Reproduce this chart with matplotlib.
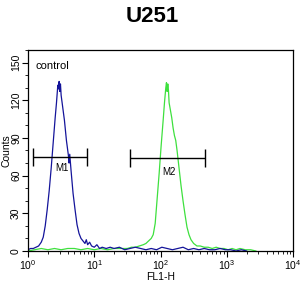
import numpy as np
import matplotlib.pyplot as plt
from matplotlib.ticker import MultipleLocator, LogLocator, NullFormatter

plt.rcParams['font.family'] = ['Liberation Sans', 'DejaVu Sans']

# control histogram (blue), positions in decades of FL1-H
blue_log = [0.00, 0.04, 0.08, 0.12, 0.16, 0.20, 0.23, 0.26, 0.29, 0.32, 0.35,
            0.38, 0.41, 0.43, 0.45, 0.46, 0.47, 0.48, 0.49, 0.50, 0.52, 0.55,
            0.58, 0.61, 0.62, 0.63, 0.65, 0.68, 0.71, 0.74, 0.77, 0.80, 0.83,
            0.86, 0.88, 0.90, 0.93, 0.96, 1.00, 1.04, 1.08, 1.12, 1.18, 1.24,
            1.30, 1.38, 1.46, 1.54, 1.62, 1.70, 1.78, 1.86, 1.94, 2.02, 2.10,
            2.18, 2.26, 2.34, 2.42, 2.50, 2.58, 2.66, 2.74, 2.82, 2.90, 2.98,
            3.06, 3.14, 3.22, 3.30]
blue_cnt = [1, 2, 2, 3, 4, 7, 11, 20, 33, 48, 66,
            86, 106, 118, 132, 129, 135, 127, 133, 124, 116, 104,
            88, 76, 70, 77, 64, 46, 33, 21, 14, 10, 8,
            6, 9, 5, 7, 4, 3, 5, 2, 3, 2, 3,
            2, 3, 1, 2, 3, 2, 1, 2, 1, 3, 2,
            1, 2, 3, 1, 2, 1, 2, 1, 1, 2, 1,
            1, 0, 1, 0]

# U251 histogram (green)
green_log = [0.00, 0.10, 0.20, 0.30, 0.40, 0.50, 0.60, 0.70, 0.80, 0.90, 1.00,
             1.10, 1.20, 1.30, 1.40, 1.50, 1.56, 1.62, 1.68, 1.74, 1.78, 1.82,
             1.86, 1.89, 1.92, 1.95, 1.98, 2.01, 2.04, 2.06, 2.08, 2.09, 2.10,
             2.11, 2.12, 2.13, 2.15, 2.17, 2.19, 2.21, 2.23, 2.25, 2.28, 2.31,
             2.34, 2.37, 2.40, 2.43, 2.46, 2.50, 2.55, 2.60, 2.66, 2.72, 2.78,
             2.84, 2.90, 2.96, 3.02, 3.08, 3.14, 3.20, 3.28, 3.36, 3.44]
green_cnt = [0, 1, 2, 1, 2, 1, 2, 2, 1, 2, 1,
             2, 1, 2, 2, 2, 3, 3, 4, 5, 6, 8,
             10, 13, 22, 42, 62, 84, 104, 118, 130, 134, 127,
             133, 128, 118, 112, 106, 98, 92, 88, 80, 66, 52,
             40, 29, 19, 13, 9, 6, 4, 4, 3, 3, 2,
             3, 2, 2, 1, 2, 1, 2, 1, 1, 0]

# marker gates: (label, start, end, bar height)
gate_names = ['M1', 'M2']
gate_lo = [1.19, 34.7]
gate_hi = [7.8, 468]
gate_y = [75, 74]
gate_text_x = [3.2, 135]
gate_text_y = [66, 63]

fig = plt.figure(figsize=(3.05, 2.96), dpi=100)
ax = fig.add_axes([28/305, 45/296, 265/305, 201/296])

ax.plot(10**np.array(green_log), green_cnt, color='#3ee03e', lw=0.9)
ax.plot(10**np.array(blue_log), blue_cnt, color='#14149a', lw=0.9)

for name, lo, hi, y, tx, ty in zip(gate_names, gate_lo, gate_hi, gate_y,
                                   gate_text_x, gate_text_y):
    ax.hlines(y, lo, hi, color='black', lw=1)
    ax.vlines([lo, hi], y - 7, y + 7, color='black', lw=1)
    ax.text(tx, ty, name, ha='center', va='center', fontsize=7)

ax.text(1.32, 147, 'control', ha='left', va='center', fontsize=8)

ax.set_xscale('log')
ax.set_xlim(1, 1e4)
ax.set_ylim(0, 160)
ax.xaxis.set_major_locator(LogLocator(base=10, numticks=10))
ax.xaxis.set_minor_locator(LogLocator(base=10, subs=np.arange(2, 10), numticks=20))
ax.xaxis.set_minor_formatter(NullFormatter())
ax.yaxis.set_major_locator(MultipleLocator(30))
ax.yaxis.set_minor_locator(MultipleLocator(10))
ax.tick_params(axis='both', which='major', labelsize=7.5, length=4, width=0.8)
ax.tick_params(axis='both', which='minor', length=2.5, width=0.6)
ax.tick_params(axis='y', which='major', pad=1)
ax.tick_params(axis='x', which='major', pad=1)
for lab in ax.get_yticklabels():
    lab.set_rotation(90)
    lab.set_va('center')

ax.set_xlabel('FL1-H', fontsize=7.5, labelpad=0)
ax.set_ylabel('Counts', fontsize=7.5, labelpad=0)
for s in ax.spines.values():
    s.set_linewidth(0.9)

fig.text(0.5, 1 - 16/296, 'U251', fontsize=16, fontweight='bold',
         ha='center', va='center')

fig.savefig('out.png', dpi=100)
